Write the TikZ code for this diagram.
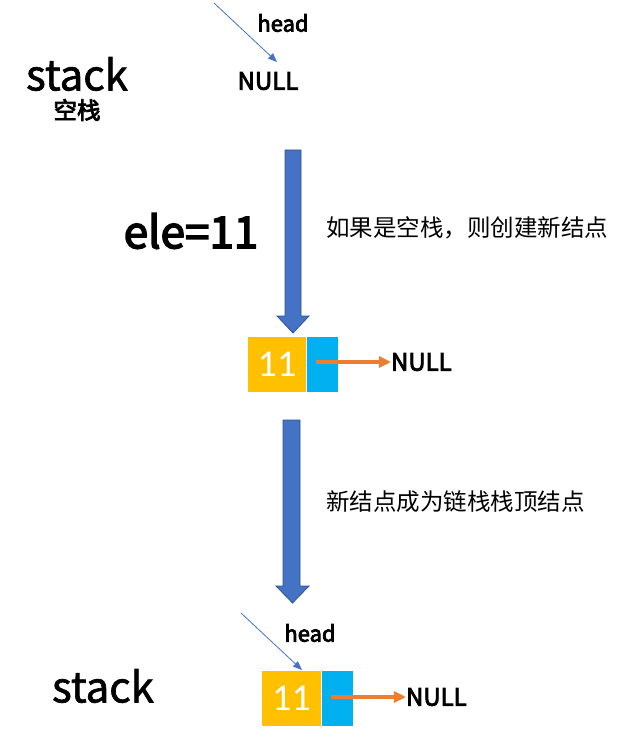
\documentclass[tikz,border=0pt]{standalone}
\usepackage{fontspec}
\setmainfont{Noto Sans CJK SC}
\newfontfamily\semib[FakeBold=3.5]{Noto Sans CJK SC}
\newfontfamily\semis[FakeBold=1.5]{Noto Sans CJK SC}
\newfontfamily\thinfont{Carlito}
\usetikzlibrary{arrows.meta}
\definecolor{offblue}{HTML}{4472C4}
\definecolor{offblued}{HTML}{2F528F}
\definecolor{offyellow}{HTML}{FFC000}
\definecolor{offcyan}{HTML}{00B0F0}
\definecolor{offorange}{HTML}{ED7D31}
\tikzset{
  px/.style={x=1pt,y=-1pt},
  txt/.style={inner sep=0pt,outer sep=0pt,text=black},
  bigtxt/.style={txt,font=\fontsize{42}{42}\semis},
  eletxt/.style={txt,font=\fontsize{44}{44}\semib},
  cntxt/.style={txt,anchor=west,font=\fontsize{23.5}{24}\selectfont},
  lbl/.style={txt,font=\fontsize{22}{22}\semib},
  nulltxt/.style={txt,font=\fontsize{24}{24}\semib},
  datacell/.style={fill=offyellow,draw=none,inner sep=0pt,text=white,font=\fontsize{38}{38}\thinfont},
  nextcell/.style={fill=offcyan,draw=none,inner sep=0pt},
  ptr/.style={draw=offorange,line width=4pt,-{Triangle[length=12pt,width=11pt]}},
  headptr/.style={draw=offblue,line width=0.8pt,-{Triangle[length=9pt,width=7pt]}},
  bigarrow/.style={fill=offblue,draw=offblued,line width=0.8pt},
}
\begin{document}
\begin{tikzpicture}[px]
\useasboundingbox (0,0) rectangle (631,743);
% ---------- top: empty stack ----------
\node[bigtxt] (stack1) at (77,74) {stack};
\node[txt,font=\fontsize{23.5}{24}\semib] (kong) at (77,110) {空栈};
\node[lbl] (head1) at (283,23) {head};
\node[nulltxt] (null1) at (268,81) {NULL};
\coordinate (h1s) at (214,3);
\coordinate (h1e) at (277,62);
\draw[headptr] (h1s) -- (h1e);
% ---------- big arrow 1 ----------
\path[bigarrow] (285,150) -- (301,150) -- (301,316) -- (309,316) -- (293,333) -- (277,316) -- (285,316) -- cycle;
\node[eletxt] (ele) at (191,231) {ele=11};
\node[cntxt] (t1) at (326,228) {如果是空栈，则创建新结点};
% ---------- new node ----------
\node[datacell,minimum width=58pt,minimum height=55pt] (d1) at (277,364.5) {11};
\node[nextcell,minimum width=31pt,minimum height=55pt] (n1) at (322.5,364.5) {};
\coordinate (p1s) at (316,362);
\node[nulltxt,anchor=west] (null2) at (391,362) {NULL};
\draw[ptr] (p1s) -- (null2.west);
% ---------- big arrow 2 ----------
\path[bigarrow] (283,420) -- (300,420) -- (300,586) -- (309,586) -- (292.5,603) -- (276,586) -- (283,586) -- cycle;
\node[cntxt] (t2) at (326,502) {新结点成为链栈栈顶结点};
% ---------- bottom: stack with one node ----------
\node[bigtxt] (stack2) at (103,686) {stack};
\node[lbl] (head2) at (310,633) {head};
\coordinate (h2s) at (241,613);
\coordinate (h2e) at (302,670);
\draw[headptr] (h2s) -- (h2e);
\node[datacell,minimum width=59pt,minimum height=55pt] (d2) at (291.5,698.5) {11};
\node[nextcell,minimum width=31pt,minimum height=55pt] (n2) at (337.5,698.5) {};
\coordinate (p2s) at (331,697);
\node[nulltxt,anchor=west] (null3) at (406,697) {NULL};
\draw[ptr] (p2s) -- (null3.west);
\end{tikzpicture}
\end{document}
